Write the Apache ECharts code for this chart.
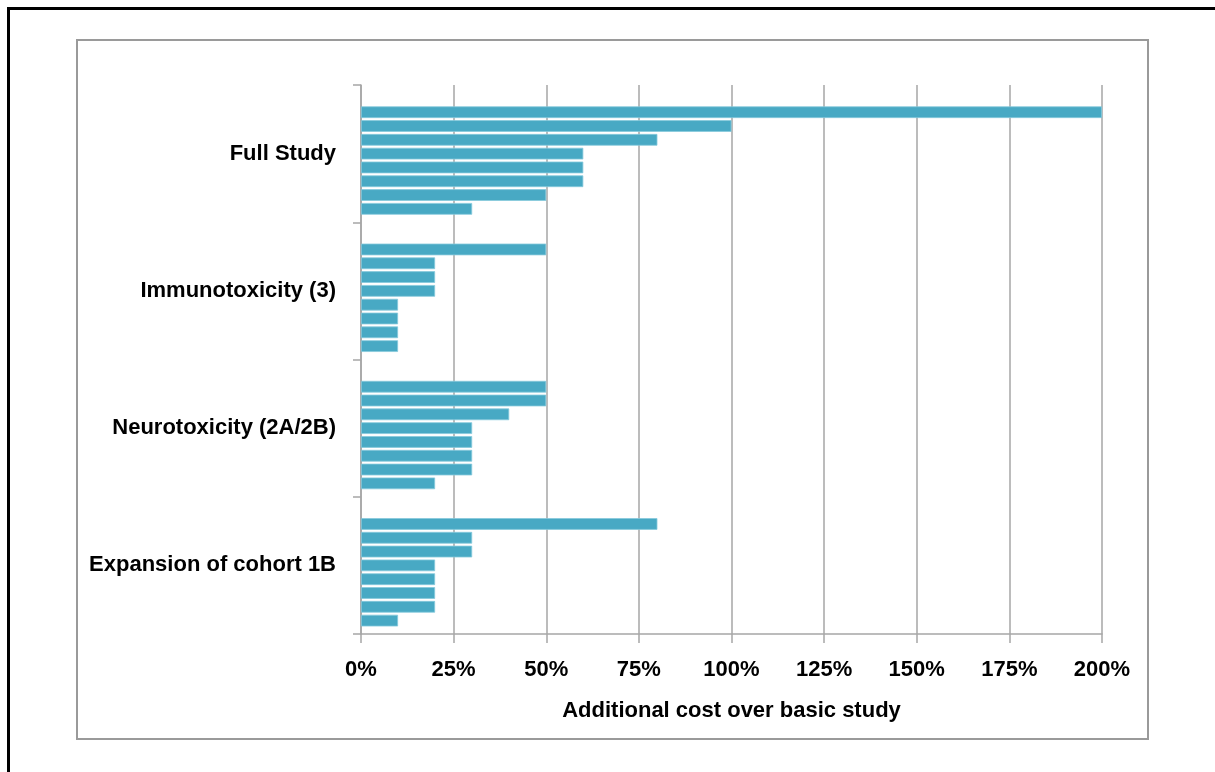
<!DOCTYPE html>
<html>
<head>
<meta charset="utf-8">
<title>Additional cost over basic study</title>
<script src="https://cdn.jsdelivr.net/npm/echarts@6/dist/echarts.min.js"></script>
<style>
  html, body { margin: 0; padding: 0; background: #ffffff; }
  #chart { width: 1215px; height: 772px; }
</style>
</head>
<body>
<div id="chart"></div>
<script>
// Study types, listed top to bottom
const categories = ['Full Study', 'Immunotoxicity (3)', 'Neurotoxicity (2A/2B)', 'Expansion of cohort 1B'];

// Additional cost (%) of each estimate, largest first within each study type
const fullStudy      = [200, 100, 80, 60, 60, 60, 50, 30];
const immunotoxicity = [50, 20, 20, 20, 10, 10, 10, 10];
const neurotoxicity  = [50, 50, 40, 30, 30, 30, 30, 20];
const cohortExpansion = [80, 30, 30, 20, 20, 20, 20, 10];

// Value axis ticks
const xTicks = [0, 25, 50, 75, 100, 125, 150, 175, 200];

const groups = [fullStudy, immunotoxicity, neurotoxicity, cohortExpansion];
const barColor = '#48a9c4';
const gridColor = '#a6a6a6';
const font = '"Liberation Sans", Arial, sans-serif';

// One series per estimate slot; an empty leading slot keeps each group's spacing
const series = [{
  type: 'bar',
  name: 'slot 0',
  data: categories.map(() => null),
  barGap: '18%',
  barCategoryGap: '11%'
}];
for (let k = 0; k < fullStudy.length; k++) {
  series.push({
    type: 'bar',
    name: 'slot ' + (k + 1),
    data: groups.map(g => g[k]),
    barGap: '18%',
    barCategoryGap: '11%',
    itemStyle: { color: barColor, borderColor: '#86c9dc', borderWidth: 0.8 }
  });
}

const chart = echarts.init(document.getElementById('chart'), null, { renderer: 'canvas' });
chart.setOption({
  backgroundColor: '#ffffff',
  animation: false,
  grid: { left: 361, right: 113, top: 85, bottom: 138, containLabel: false },
  xAxis: {
    type: 'value',
    min: xTicks[0],
    max: xTicks[xTicks.length - 1],
    interval: xTicks[1] - xTicks[0],
    name: 'Additional cost over basic study',
    nameLocation: 'middle',
    nameGap: 66,
    nameTextStyle: { fontFamily: font, fontWeight: 'bold', fontSize: 22, color: '#000' },
    axisLine: { show: true, lineStyle: { color: gridColor, width: 1.5 } },
    axisTick: { show: true, length: 9, lineStyle: { color: gridColor, width: 1.5 } },
    axisLabel: {
      formatter: '{value}%',
      margin: 25,
      fontFamily: font, fontWeight: 'bold', fontSize: 22, color: '#000'
    },
    splitLine: { show: true, lineStyle: { color: gridColor, width: 1.5 } }
  },
  yAxis: {
    type: 'category',
    inverse: true,
    data: categories,
    axisLine: { show: true, lineStyle: { color: gridColor, width: 1.5 } },
    axisTick: { show: true, length: 8, lineStyle: { color: gridColor, width: 1.5 } },
    axisLabel: {
      margin: 25,
      fontFamily: font, fontWeight: 'bold', fontSize: 22, color: '#000'
    },
    splitLine: { show: false }
  },
  series: series,
  graphic: [
    // outer black frame (top and left edges)
    { type: 'line', shape: { x1: 7, y1: 8.5, x2: 1215, y2: 8.5 }, style: { stroke: '#000', lineWidth: 3 }, z: 10 },
    { type: 'line', shape: { x1: 8.5, y1: 7, x2: 8.5, y2: 772 }, style: { stroke: '#000', lineWidth: 3 }, z: 10 },
    // inner chart-area border
    { type: 'rect', shape: { x: 77, y: 40, width: 1071, height: 699 }, style: { fill: null, stroke: '#9a9a9a', lineWidth: 2 }, z: 10 }
  ]
});
</script>
</body>
</html>
